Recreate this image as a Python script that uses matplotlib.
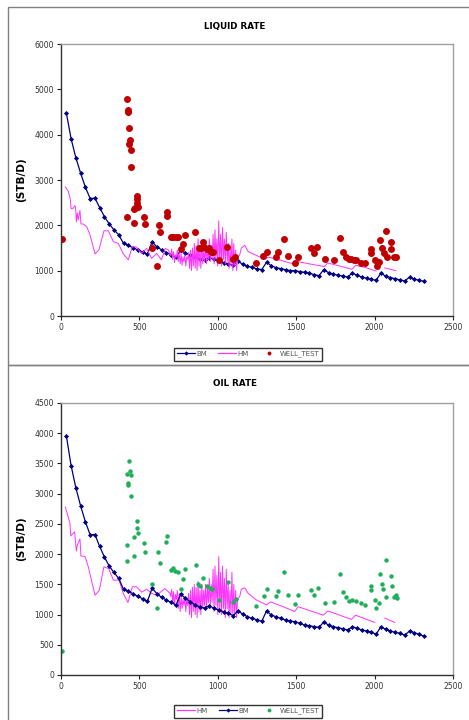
import numpy as np
import matplotlib
matplotlib.use('Agg')
import matplotlib.pyplot as plt
from matplotlib.patches import Rectangle
from matplotlib.lines import Line2D

# BM (base model) - monthly points
bm_days = [34 + 30.4 * i for i in range(76)]
bm_liquid = [4480, 3910, 3490, 3150, 2840, 2590, 2600, 2390, 2190, 2030,
             1900, 1790, 1600, 1560, 1500, 1460, 1410, 1360, 1640, 1520,
             1460, 1400, 1350, 1300, 1450, 1390, 1340, 1300, 1260, 1230,
             1290, 1250, 1210, 1180, 1150, 1120, 1210, 1140, 1100, 1070,
             1040, 1025, 1185, 1110, 1066, 1044, 1022, 1000, 1000, 978,
             963, 941, 912, 890, 1022, 956, 926, 897, 882, 860,
             948, 897, 860, 831, 809, 787, 948, 875, 846, 824,
             794, 772, 860, 816, 787, 765]
bm_oil = [3960, 3465, 3095, 2798, 2534, 2319, 2324, 2126, 1950, 1801,
          1696, 1597, 1416, 1388, 1344, 1300, 1261, 1217, 1437, 1344,
          1283, 1239, 1201, 1157, 1338, 1267, 1212, 1162, 1129, 1107,
          1146, 1102, 1074, 1047, 1019, 980, 1063, 1008, 964, 936,
          914, 887, 1063, 991, 964, 936, 909, 892, 881, 854,
          826, 815, 799, 788, 876, 826, 799, 782, 766, 744,
          799, 771, 744, 727, 705, 678, 799, 755, 727, 705,
          689, 661, 727, 700, 672, 644]

# HM (history match) - liquid
hm_liq_days = [28, 47, 60, 64, 79, 87, 93, 98, 104, 110, 121, 127, 142, 164, 185,
               217, 242, 274, 302, 334, 366, 397, 429, 455, 482, 512, 546, 578,
               610, 641, 665, 684,
               700, 706, 712, 718, 724, 730, 736, 742, 748, 754, 760, 766, 772,
               778, 784, 790, 796, 802, 808, 814, 820, 826, 832, 838, 844, 850,
               856, 862, 868, 874, 880, 886, 892, 898, 904, 910, 916, 922, 928,
               934, 940, 946, 952, 958, 964, 970, 976, 982, 988, 994, 1000, 1006,
               1012, 1018, 1024, 1030, 1036, 1042, 1048, 1054, 1060, 1066, 1072,
               1078, 1084, 1090, 1096, 1102, 1108, 1114, 1120, 1126, 1140, 1150,
               1172, 1194, 1250, 1300, 1320, 1400, 1490, 1510, 1600, 1680, 1700,
               1780, 1855, 1880, 1950, 2010, 2040, 2065, 2135]
hm_liq_rate = [2850, 2750, 2560, 2370, 2380, 2430, 2410, 2080, 2270, 2120, 2330,
               2030, 2030, 1970, 1790, 1370, 1460, 1880, 1880, 1640, 1600, 1370,
               1240, 1530, 1520, 1380, 1490, 1270, 1380, 1240, 1490, 1460,
               1330, 1480, 1250, 1420, 1180, 1350, 1300, 1450, 1200, 1400, 1150,
               1380, 1120, 1300, 1200, 1350, 1100, 1300, 1250, 1400, 1050, 1450,
               1000, 1500, 1100, 1600, 1050, 1550, 1000, 1700, 1100, 1500, 1050,
               1650, 1150, 1450, 1200, 1600, 1150, 1500, 1250, 1700, 1200, 1550,
               1250, 1800, 1150, 1900, 1250, 1700, 1100, 2100, 1200, 1800, 1100,
               1950, 1250, 1700, 1150, 1850, 1200, 1600, 1050, 1500, 1100, 1700,
               1000, 1600, 1100, 1450, 1000, 1300, 1350, 1500,
               1560, 1420, 1330, 1250, 1300, 1230, 1140, 1200, 1140, 1090, 1170,
               1100, 1030, 1120, 1060, 990, np.nan, 1060, 1000]

# HM - oil
hm_oil_days = [28, 57, 62, 87, 98, 104, 121, 127, 153, 174, 217, 244, 274, 304,
               334, 370, 397, 427, 455, 482, 514, 546, 578, 610, 639, 663, 695,
               700, 706, 712, 718, 724, 730, 736, 742, 748, 754, 760, 766, 772,
               778, 784, 790, 796, 802, 808, 814, 820, 826, 832, 838, 844, 850,
               856, 862, 868, 874, 880, 886, 892, 898, 904, 910, 916, 922, 928,
               934, 940, 946, 952, 958, 964, 970, 976, 982, 988, 994, 1000, 1006,
               1012, 1018, 1024, 1030, 1036, 1042, 1048, 1054, 1060, 1066, 1072,
               1078, 1084, 1090, 1096, 1102, 1108, 1114, 1120, 1126, 1140, 1150,
               1172, 1194, 1247, 1311, 1336, 1417, 1491, 1512, 1672, 1703, 1852,
               1878, 2001, 2030, 2065, 2128]
hm_oil_rate = [2780, 2510, 2300, 2370, 2050, 2150, 2250, 1970, 1960, 1790, 1320,
               1400, 1790, 1760, 1570, 1570, 1350, 1200, 1460, 1460, 1370, 1420,
               1350, 1320, 1380, 1430, 1350,
               1300, 1420, 1200, 1380, 1150, 1330, 1250, 1400, 1100, 1350, 1050,
               1300, 1100, 1250, 1150, 1300, 1050, 1250, 1150, 1350, 1000, 1400,
               950, 1450, 1050, 1500, 1000, 1450, 950, 1550, 1050, 1400, 1000,
               1500, 1100, 1400, 1150, 1500, 1100, 1450, 1200, 1600, 1100, 1500,
               1200, 1750, 1050, 1800, 1150, 1650, 1000, 1960, 1100, 1700, 1000,
               1800, 1100, 1600, 950, 1750, 1100, 1500, 950, 1400, 1000, 1700,
               950, 1500, 1000, 1400, 950, 1250, 1300, 1420,
               1440, 1350, 1240, 1160, 1210, 1130, 1050, 1130, 990, 1060, 920,
               990, 870, np.nan, 940, 870]

# well tests
wt_days = [4, 418, 425, 429, 433, 440, 433, 444, 444, 423, 463, 463, 471, 482,
           482, 486, 491, 529, 533, 580, 614, 622, 631, 673, 678, 701, 714, 731,
           748, 763, 775, 794, 856, 877, 892, 905, 911, 928, 945, 958, 971, 1007,
           1060, 1094, 1111, 1243, 1289, 1311, 1370, 1383, 1423, 1446, 1493,
           1512, 1597, 1614, 1635, 1682, 1742, 1780, 1799, 1820, 1835, 1852,
           1867, 1880, 1916, 1941, 1975, 1977, 2001, 2014, 2026, 2037, 2048,
           2058, 2071, 2077, 2103, 2107, 2122, 2139]
wt_liquid = [1700, 4793, 4491, 4535, 4145, 3880, 3791, 3666, 3283, 2179, 2054,
             2356, 2378, 2650, 2577, 2488, 2407, 2194, 2039, 1494, 1104, 2017,
             1848, 2216, 2297, 1737, 1737, 1752, 1752, 1472, 1583, 1789, 1848,
             1494, 1494, 1627, 1531, 1472, 1494, 1421, 1421, 1237, 1531, 1259,
             1310, 1178, 1325, 1421, 1310, 1406, 1693, 1325, 1163, 1310, 1494,
             1399, 1517, 1252, 1237, 1730, 1406, 1310, 1266, 1252, 1237, 1237,
             1178, 1163, 1472, 1399, 1237, 1112, 1200, 1679, 1502, 1399, 1885,
             1296, 1642, 1472, 1296, 1296]

wt_oil_days = [4, 418, 420, 433, 429, 427, 440, 444, 446, 423, 463, 467, 482,
               486, 489, 529, 533, 580, 614, 620, 631, 671, 676, 699, 714, 729,
               744, 763, 778, 792, 858, 873, 888, 907, 928, 949, 966, 1009, 1062,
               1098, 1113, 1243, 1294, 1313, 1368, 1385, 1423, 1446, 1493, 1514,
               1597, 1614, 1640, 1682, 1742, 1780, 1799, 1820, 1835, 1857, 1880,
               1916, 1941, 1975, 1977, 2001, 2012, 2026, 2037, 2048, 2054, 2071,
               2075, 2103, 2109, 2122, 2135, 2141]
wt_oil = [391, 2159, 3332, 3536, 3184, 3150, 3371, 3305, 2969, 1878, 1977, 2286,
          2545, 2434, 2352, 2176, 2038, 1504, 1102, 2038, 1856, 2203, 2302, 1740,
          1763, 1724, 1696, 1427, 1581, 1746, 1812, 1504, 1471, 1597, 1471, 1432,
          1416, 1239, 1542, 1201, 1250, 1140, 1305, 1416, 1305, 1393, 1696, 1322,
          1168, 1322, 1404, 1322, 1432, 1184, 1212, 1669, 1366, 1294, 1228, 1239,
          1228, 1184, 1157, 1471, 1404, 1239, 1102, 1184, 1674, 1504, 1416, 1895,
          1294, 1636, 1471, 1294, 1322, 1278]

BM_COLOR = '#000080'
HM_COLOR = '#ff33ff'
LIQ_COLOR = '#c00000'
OIL_COLOR = '#1fae5a'

fig = plt.figure(figsize=(4.69, 7.2), dpi=100)
fig.patch.set_facecolor('white')

# chart borders (excel style)
for y0, h in [(1 - 365 / 720, 358 / 720), (-0.01, 1 - 365 / 720 + 0.01)]:
    fig.patches.append(Rectangle((8 / 469, y0), 1.0, h, transform=fig.transFigure,
                                 fill=False, edgecolor='#808080', linewidth=1.0))


def style_axes(ax, ymax, ystep):
    ax.set_xlim(0, 2500)
    ax.set_ylim(0, ymax)
    ax.set_xticks(np.arange(0, 2501, 500))
    ax.set_yticks(np.arange(0, ymax + 1, ystep))
    ax.tick_params(labelsize=5.5, length=3, width=0.8, colors='#222222',
                   labelcolor='#333333', pad=2)
    for s in ['top', 'right']:
        ax.spines[s].set_color('#a0a0a0')
    for s in ['left', 'bottom']:
        ax.spines[s].set_color('#303030')
    for s in ax.spines.values():
        s.set_linewidth(1.0)
    ax.set_ylabel('(STB/D)', fontsize=7.5, fontweight='bold', labelpad=6)


def add_legend(handles, yc):
    fig.legend(handles=handles, loc='center', bbox_to_anchor=(248 / 469, yc),
               ncol=3, fontsize=5, frameon=True, fancybox=False,
               edgecolor='black', handlelength=2.6, columnspacing=1.6,
               handletextpad=0.2, borderpad=0.45, labelcolor='#555555')


def bm_handle():
    return Line2D([], [], color=BM_COLOR, marker='D', markersize=2.2,
                  markeredgewidth=0, linewidth=0.9, label='BM')


def hm_handle():
    return Line2D([], [], color=HM_COLOR, linewidth=0.9, label='HM')


def wt_handle(c):
    return Line2D([], [], color=c, marker='o', markersize=2.8, linestyle='none',
                  markeredgewidth=0, label='WELL_TEST')


# --- liquid rate ---
ax1 = fig.add_axes([61 / 469, 1 - 316 / 720, 392 / 469, 272 / 720])
ax1.plot(bm_days, bm_liquid, '-D', color=BM_COLOR, markersize=2.6,
         linewidth=0.9, markeredgewidth=0)
ax1.plot(hm_liq_days, hm_liq_rate, '-', color=HM_COLOR, linewidth=0.7)
ax1.plot(wt_days, wt_liquid, 'o', color=LIQ_COLOR, markersize=5,
         markeredgewidth=0)
style_axes(ax1, 6000, 1000)
fig.text(0.5, 1 - 26 / 720, 'LIQUID RATE', ha='center', va='center',
         fontsize=6.3, fontweight='bold')
add_legend([bm_handle(), hm_handle(), wt_handle(LIQ_COLOR)], 1 - 354 / 720)

# --- oil rate ---
ax2 = fig.add_axes([61 / 469, 1 - 675 / 720, 392 / 469, 272 / 720])
ax2.plot(hm_oil_days, hm_oil_rate, '-', color=HM_COLOR, linewidth=0.7)
ax2.plot(bm_days, bm_oil, '-D', color=BM_COLOR, markersize=2.6,
         linewidth=0.9, markeredgewidth=0)
ax2.plot(wt_oil_days, wt_oil, 'o', color=OIL_COLOR, markersize=3.2,
         markeredgewidth=0)
style_axes(ax2, 4500, 500)
fig.text(0.5, 1 - 384 / 720, 'OIL RATE', ha='center', va='center',
         fontsize=6.3, fontweight='bold')
add_legend([hm_handle(), bm_handle(), wt_handle(OIL_COLOR)], 1 - 711 / 720)

fig.savefig('out.png', dpi=100, facecolor='white')
